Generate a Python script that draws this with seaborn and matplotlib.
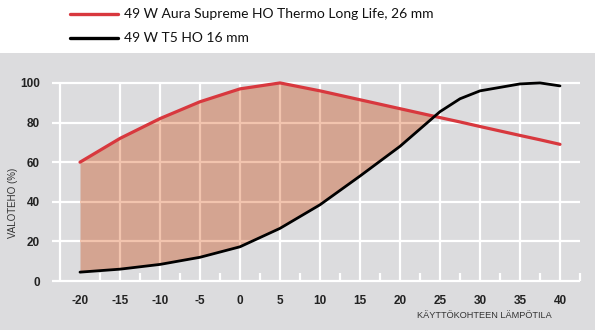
import numpy as np
import pandas as pd
import matplotlib
matplotlib.use("Agg")
import matplotlib.pyplot as plt
import seaborn as sns
from matplotlib.patches import Rectangle
from matplotlib.lines import Line2D

# ---- data ----
temperature = [-20, -15, -10, -5, 0, 5, 10, 15, 20, 25, 27.5, 30, 35, 37.5, 40]
aura = [60, 72, 82, 90.5, 97, 100, 96, 91.5, 87, 82.5, 80.3, 78, 73.5, 71.3, 69]
t5 = [4.5, 6, 8.4, 12, 17.3, 26.6, 38.5, 53, 68, 85.5, 92, 96, 99.5, 100, 98.5]
series_names = ["49 W Aura Supreme HO Thermo Long Life, 26 mm", "49 W T5 HO 16 mm"]
xticks = [-20, -15, -10, -5, 0, 5, 10, 15, 20, 25, 30, 35, 40]
yticks = [0, 20, 40, 60, 80, 100]
xlabel = "KÄYTTÖKOHTEEN LÄMPÖTILA"
ylabel = "VALOTEHO (%)"

RED = "#d8383e"
BG = "#dcdcde"
FILL = "#d4a491"
FILL_GRID = "#f2c4ae"

df = pd.DataFrame({"temp": temperature, "aura": aura, "t5": t5})

sns.set_theme(style="white")
plt.rcParams["font.family"] = ["Liberation Sans", "DejaVu Sans"]

W, H = 595, 330
fig = plt.figure(figsize=(W / 100, H / 100), dpi=100)
fig.patch.set_facecolor(BG)
fig.patches.append(Rectangle((0, 1 - 53 / H), 1, 53 / H, transform=fig.transFigure,
                             facecolor="white", edgecolor="none", zorder=0))

# axes placement: x -24..43 -> 48..584 px ; y -3..104 -> 287..75 px
x0, x1 = -24, 43
y0, y1 = -3, 104
left_px, right_px = 48, 584
bot_px, top_px = 287, 75
ax = fig.add_axes([left_px / W, 1 - bot_px / H, (right_px - left_px) / W, (bot_px - top_px) / H])
ax.set_facecolor("none")
ax.set_xlim(x0, x1)
ax.set_ylim(y0, y1)
for s in ax.spines.values():
    s.set_visible(False)

# grid (white)
gl = dict(color="white", lw=1.6, zorder=1)
for yv in yticks:
    ax.hlines(yv, -23.5, 42.5, **gl)
for xv in xticks[1:]:
    ax.vlines(xv, 0, 100, **gl)
ax.vlines(-22.5, 0, 100, **gl)
minor = np.arange(-17.5, 40, 5).tolist() + [42.5]
ax.vlines(minor, 0, 4, **gl)

# fill between
x = np.array(temperature, dtype=float)
a = np.array(aura, dtype=float)
b = np.array(t5, dtype=float)
poly = ax.fill_between(x, a, b, where=a >= b, interpolate=True, color=FILL, lw=0, zorder=2)

# salmon grid over the fill
clip_path = poly.get_paths()[0]
for yv in yticks[1:]:
    ln = ax.hlines(yv, -23.5, 42.5, color=FILL_GRID, lw=1.6, zorder=3)
    ln.set_clip_path(clip_path, ax.transData)
for xv in xticks[1:]:
    ln = ax.vlines(xv, 0, 100, color=FILL_GRID, lw=1.6, zorder=3)
    ln.set_clip_path(clip_path, ax.transData)

sns.lineplot(data=df, x="temp", y="aura", color=RED, lw=2.3, ax=ax, zorder=5)
sns.lineplot(data=df, x="temp", y="t5", color="black", lw=2.0, ax=ax, zorder=5)

ax.set_xticks(xticks)
ax.set_xticklabels([str(v) for v in xticks], fontsize=8.5, fontweight="bold", color="#222222")
ax.set_yticks(yticks)
ax.set_yticklabels([str(v) for v in yticks], fontsize=8.5, fontweight="bold", color="#222222")
ax.tick_params(axis="x", length=0, pad=6)
ax.tick_params(axis="y", length=0, pad=6)
ax.set_xlabel("")
ax.set_ylabel("")

fig.text(13 / W, 1 - 203 / H, ylabel, rotation=90, ha="center", va="center",
         fontsize=7, color="#333333")
fig.text(552 / W, 1 - 316 / H, xlabel, ha="right", va="center", fontsize=6.6, color="#333333")

# legend at top
for yy, col, name in [(14, RED, series_names[0]), (38, "black", series_names[1])]:
    fig.lines.append(Line2D([70 / W, 118 / W], [1 - yy / H, 1 - yy / H], transform=fig.transFigure,
                            color=col, lw=2.4))
    fig.text(124 / W, 1 - yy / H, name, ha="left", va="center", fontsize=10,
             family=["Lato", "DejaVu Sans"], color="#111111")

fig.savefig("out.png", dpi=100, facecolor=fig.get_facecolor())
